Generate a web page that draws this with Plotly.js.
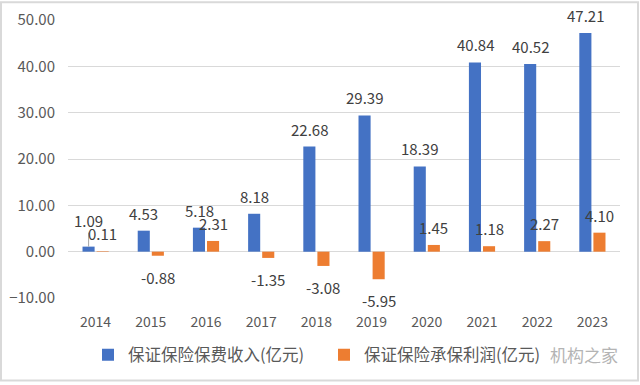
<!DOCTYPE html>
<html>
<head>
<meta charset="utf-8">
<script src="https://cdn.plot.ly/plotly-3.0.1.min.js"></script>
<style>
html,body{margin:0;padding:0;background:#fff;}
#chart{width:640px;height:385px;}
</style>
</head>
<body>
<div id="chart"></div>
<script>
const years = ['2014','2015','2016','2017','2018','2019','2020','2021','2022','2023'];
const premiumIncome = [1.09, 4.53, 5.18, 8.18, 22.68, 29.39, 18.39, 40.84, 40.52, 47.21];
const underwritingProfit = [0.11, -0.88, 2.31, -1.35, -3.08, -5.95, 1.45, 1.18, 2.27, 4.10];
const seriesNames = ['保证保险保费收入(亿元)', '保证保险承保利润(亿元)'];
const watermark = '机构之家';

const fontFamily = '"Noto Sans CJK SC", "Noto Sans", sans-serif';
const labelFont = {family: fontFamily, size: 15, color: '#404040'};

const traces = [
  {type: 'bar', name: seriesNames[0], x: years, y: premiumIncome,
   marker: {color: '#4472C4'}, hoverinfo: 'none'},
  {type: 'bar', name: seriesNames[1], x: years, y: underwritingProfit,
   marker: {color: '#ED7D31'}, hoverinfo: 'none'}
];

// data labels drawn as annotations anchored at each bar's value
// (category axis: annotation x is the category's serial number)
const barPxOffset = [-7, 7];
const annotations = [];
[premiumIncome, underwritingProfit].forEach((series, si) => {
  series.forEach((v, i) => {
    const a = {
      x: years.indexOf(years[i]), y: v, xref: 'x', yref: 'y',
      text: v.toFixed(2), font: labelFont,
      xshift: barPxOffset[si], xanchor: 'center', showarrow: false
    };
    if (si === 0 && i === 0) {
      // label moved up by hand in the original, with a leader line
      Object.assign(a, {showarrow: true, ax: 0, ay: -26, arrowhead: 0,
        arrowwidth: 1, arrowcolor: '#a6a6a6', standoff: 0});
    } else if (v >= 0) {
      a.yanchor = 'bottom'; a.yshift = 5;
    } else {
      a.yanchor = 'top'; a.yshift = -9;
    }
    annotations.push(a);
  });
});
annotations.push({xref: 'paper', yref: 'paper', x: 1.0, y: -0.205,
  xanchor: 'right', yanchor: 'middle', text: watermark, showarrow: false,
  font: {family: fontFamily, size: 17, color: '#b4b4b4'}});

const layout = {
  width: 640, height: 385,
  margin: {l: 68, r: 20, t: 20, b: 85},
  paper_bgcolor: '#ffffff', plot_bgcolor: '#ffffff',
  font: {family: fontFamily, size: 14, color: '#595959'},
  barmode: 'group', bargap: 0.49, bargroupgap: 0.14,
  showlegend: true,
  legend: {
    orientation: 'h', x: 20/552, xanchor: 'left', y: -0.205, yanchor: 'middle',
    font: {family: fontFamily, size: 16.5, color: '#595959'},
    itemwidth: 30, entrywidth: 191, traceorder: 'normal'
  },
  xaxis: {
    type: 'category', range: [-0.5, years.length - 0.5],
    showgrid: false, zeroline: false, showline: false,
    ticks: '', ticklabelstandoff: 14, tickfont: {size: 14, color: '#595959'}
  },
  yaxis: {
    range: [-10, 50], dtick: 10, tickformat: '.2f',
    showgrid: true, gridcolor: '#d9d9d9', gridwidth: 1,
    zeroline: true, zerolinecolor: '#d9d9d9', zerolinewidth: 1,
    showline: false, ticks: '', ticklabelstandoff: 12,
    tickfont: {size: 15, color: '#595959'}
  },
  shapes: [
    {type: 'rect', xref: 'paper', yref: 'paper',
     x0: -67/552, x1: 1 + 18/552, y0: -83/280, y1: 1 + 18/280,
     line: {color: '#d9d9d9', width: 2}, fillcolor: 'rgba(0,0,0,0)'}
  ],
  annotations: annotations
};

Plotly.newPlot('chart', traces, layout, {staticPlot: true, displayModeBar: false});
</script>
</body>
</html>
